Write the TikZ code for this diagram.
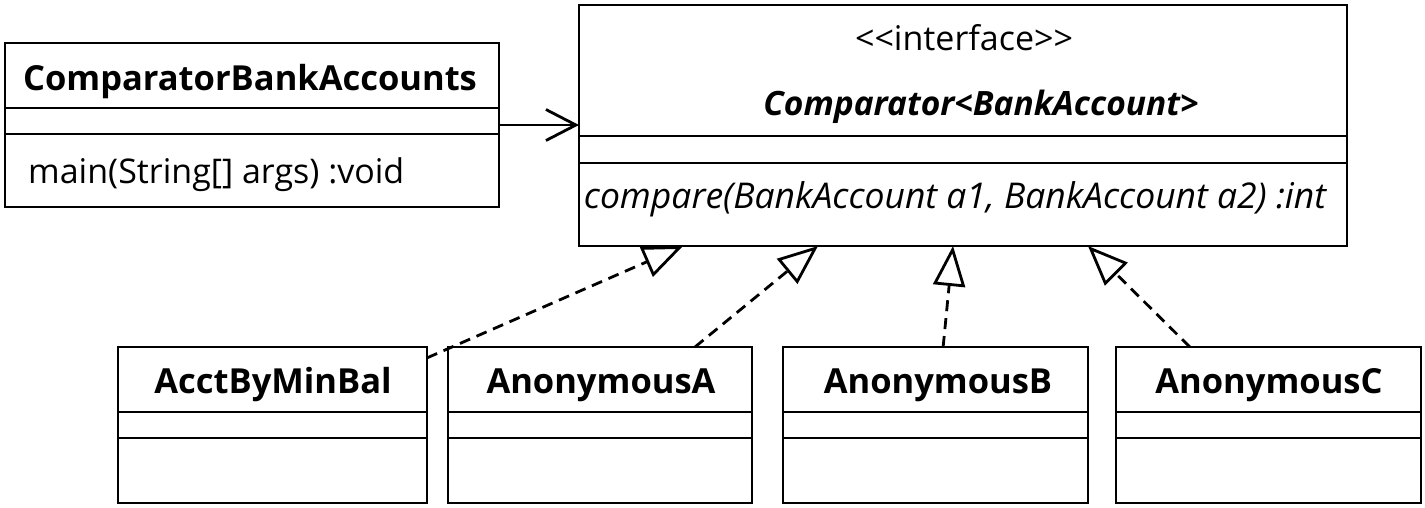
\documentclass[tikz,border=0pt]{standalone}
\usepackage{fontspec}
\setmainfont{Open Sans}
\usetikzlibrary{arrows.meta}
\tikzset{
  umlbox/.style={draw, line width=2.8pt, rectangle, inner sep=0pt, outer sep=0pt},
  sepline/.style={line width=2.8pt},
  realize/.style={line width=2.8pt, dash pattern=on 11pt off 7pt, -{Triangle[open, length=40pt, width=32pt]}},
  assoc/.style={line width=2.8pt, -{Straight Barb[length=30pt, width=31pt]}},
  titletext/.style={anchor=base, inner sep=0pt, font=\fontsize{34.5}{40}\selectfont\bfseries},
  plaintext/.style={anchor=base, inner sep=0pt, font=\fontsize{34}{40}\selectfont},
}
\begin{document}
\begin{tikzpicture}[x=1pt, y=-1pt]
\useasboundingbox (0,0) rectangle (1425,507);
% boxes
\node[umlbox, minimum width=494pt, minimum height=164pt] (cba) at (252,125) {};
\node[umlbox, minimum width=768pt, minimum height=241pt] (iface) at (963,125.5) {};
\node[umlbox, minimum width=309pt, minimum height=156pt] (acct) at (272.5,425) {};
\node[umlbox, minimum width=304pt, minimum height=156pt] (anA) at (600,425) {};
\node[umlbox, minimum width=305pt, minimum height=156pt] (anB) at (935.5,425) {};
\node[umlbox, minimum width=305pt, minimum height=156pt] (anC) at (1268.5,425) {};
% separators
\draw[sepline] (cba.west |- 0,108) -- (cba.east |- 0,108);
\draw[sepline] (cba.west |- 0,134) -- (cba.east |- 0,134);
\draw[sepline] (iface.west |- 0,136) -- (iface.east |- 0,136);
\draw[sepline] (iface.west |- 0,163) -- (iface.east |- 0,163);
\foreach \b in {acct,anA,anB,anC}{
  \draw[sepline] (\b.west |- 0,412) -- (\b.east |- 0,412);
  \draw[sepline] (\b.west |- 0,438) -- (\b.east |- 0,438);
}
% texts
\node[titletext] (cbaT) at (250,90) {ComparatorBankAccounts};
\node[plaintext, anchor=base west] (cbaM) at (28,183) {main(String[] args) :void};
\node[plaintext] (ster) at (964,50) {<{}<interface>{}>};
\node[titletext, font=\fontsize{33.5}{40}\selectfont\bfseries\itshape] (ifT) at (981,115) {Comparator<BankAccount>};
\node[plaintext, font=\fontsize{35.5}{40}\selectfont\itshape] (ifM) at (955,208) {compare(BankAccount a1, BankAccount a2) :int};
\node[titletext] (acctT) at (273,393) {AcctByMinBal};
\node[titletext] (anAT) at (601,393) {AnonymousA};
\node[titletext] (anBT) at (938,393) {AnonymousB};
\node[titletext] (anCT) at (1269,393) {AnonymousC};
% connector targets on interface bottom
\coordinate (t1) at (683,246);
\coordinate (t2) at (818,246);
\coordinate (t3) at (953,246);
\coordinate (t4) at (1088,246);
\draw[assoc] (cba.east) -- (cba.east -| iface.west);
\draw[realize] (acct) -- (t1);
\draw[realize] (anA) -- (t2);
\draw[realize] (anB) -- (t3);
\draw[realize] (anC) -- (t4);
\end{tikzpicture}
\end{document}
